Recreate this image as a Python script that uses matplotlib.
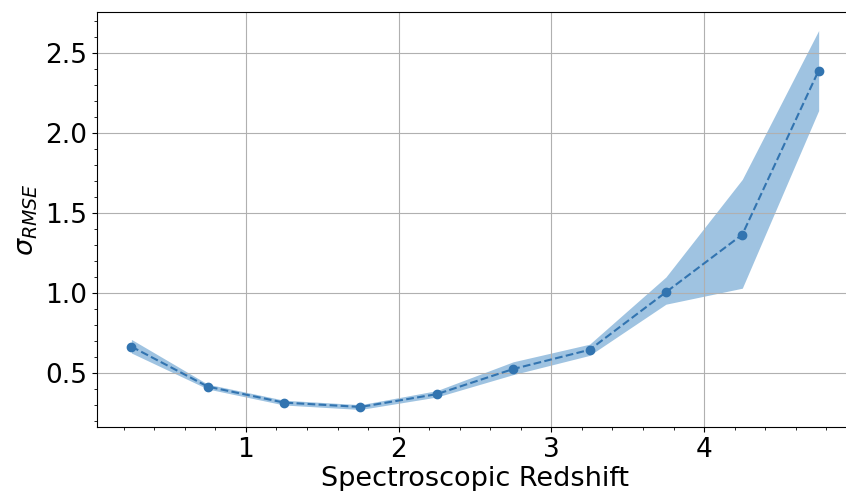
import numpy as np
import matplotlib.pyplot as plt
from matplotlib.ticker import AutoMinorLocator

# binned redshift centres and rmse per bin, with the spread band
z_bins = [0.25, 0.75, 1.25, 1.75, 2.25, 2.75, 3.25, 3.75, 4.25, 4.75]
rmse = [0.665, 0.415, 0.315, 0.288, 0.368, 0.525, 0.645, 1.005, 1.365, 2.39]
rmse_lo = [0.625, 0.400, 0.300, 0.272, 0.350, 0.490, 0.610, 0.930, 1.030, 2.140]
rmse_hi = [0.710, 0.430, 0.330, 0.302, 0.390, 0.570, 0.680, 1.100, 1.710, 2.640]

fig = plt.figure(figsize=(8.46, 4.91), dpi=100)
ax = fig.add_axes([0.1147, 0.1303, 0.8936, 0.8453])

ax.fill_between(z_bins, rmse_lo, rmse_hi, color='#2a7bbd', alpha=0.45, linewidth=0)
ax.plot(z_bins, rmse, '--o', color='#3274b0', markersize=6, linewidth=1.5)

ax.set_xlim(0.025, 4.975)
ax.set_ylim(0.1625, 2.756)
ax.set_xticks([1, 2, 3, 4])
ax.set_yticks([0.5, 1.0, 1.5, 2.0, 2.5])
ax.xaxis.set_minor_locator(AutoMinorLocator(5))
ax.yaxis.set_minor_locator(AutoMinorLocator(5))
ax.tick_params(axis='both', which='major', labelsize=19)
ax.grid(True, which='major', color='#b0b0b0', linewidth=0.8)

ax.set_xlabel('Spectroscopic Redshift', fontsize=19.5, labelpad=2)
ax.set_ylabel(r'$\sigma_{RMSE}$', fontsize=19.5)

fig.savefig('out.png', dpi=100)
